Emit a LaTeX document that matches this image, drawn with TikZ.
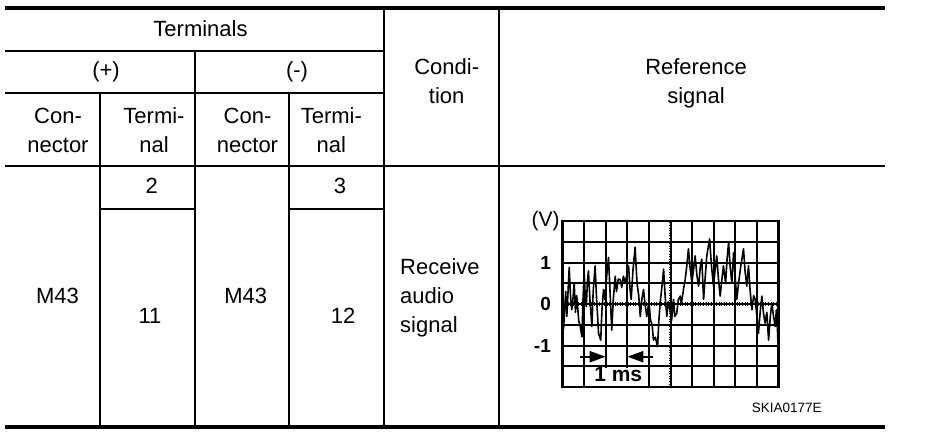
\documentclass[tikz,border=0pt]{standalone}
\usepackage{fontspec}
\setmainfont{Liberation Sans}
\usetikzlibrary{arrows.meta}

\tikzset{
  heavyrule/.style={line width=4pt},
  thinrule/.style={line width=2pt},
  cell/.style={inner sep=0pt, align=center, font=\fontsize{22}{29}\selectfont},
  axislabel/.style={inner sep=0pt, font=\fontsize{19}{22}\selectfont\bfseries},
  scopegrid/.style={line width=2pt},
  midline/.style={line width=3.5pt, dash pattern=on 0.8pt off 1.8pt},
  msarrow/.style={line width=2pt, -{Triangle[length=16pt, width=11pt]}},
  trace/.style={line width=1.6pt, line join=round}
}

\begin{document}
\begin{tikzpicture}[x=1pt, y=-1pt]
        \useasboundingbox (0,0) rectangle (928,440);

        \draw [heavyrule] (5,8) -- (885,8);
        \draw [thinrule] (5,51) -- (384,51);
        \draw [thinrule] (5,93) -- (384,93);
        \draw [thinrule] (5,166) -- (885,166);
        \draw [thinrule] (100,209) -- (195,209);
        \draw [thinrule] (289,209) -- (384,209);
        \draw [heavyrule] (5,427) -- (885,427);

        \draw [thinrule] (100,93) -- (100,427);
        \draw [thinrule] (195,51) -- (195,427);
        \draw [thinrule] (289,93) -- (289,427);
        \draw [thinrule] (384,8) -- (384,427);
        \draw [thinrule] (499,8) -- (499,427);

        \node [cell] (terminals) at (200.5,28.5) {Terminals};
        \node [cell] (plus) at (106,72) {(+)};
        \node [cell] (minus) at (297,72) {(-)};
        \node [cell] (conplus) at (58,130.5) {Con-\\nector};
        \node [cell] (termplus) at (154,130.5) {Termi-\\nal};
        \node [cell] (conminus) at (247.5,130.5) {Con-\\nector};
        \node [cell] (termminus) at (331.3,130.5) {Termi-\\nal};
        \node [cell] (condition) at (446.7,81) {Condi-\\tion};
        \node [cell] (reference) at (696,83) {Reference\\signal};

        \node [cell] (pinplus) at (151.7,186) {2};
        \node [cell] (pinminus) at (340,186) {3};
        \node [cell] (connplus) at (57.5,296) {M43};
        \node [cell] (connminus) at (245.8,296) {M43};
        \node [cell] (audioplus) at (150,316) {11};
        \node [cell] (audiominus) at (343,316) {12};
        \node [cell, align=left, anchor=west] (receive) at (400,298.3) {Receive\\audio\\signal};
        \node [cell, font=\fontsize{13.5}{16}\selectfont] (code) at (786.7,408) {SKIA0177E};

        \begin{scope}[shift={(562.5,304)}, x=21.6pt, y=41.5pt]
          \draw [scopegrid] (0,-2) grid [xstep=1, ystep=0.5] (10,2);
          \draw [scopegrid, line width=2.5pt] (0,-2) rectangle (10,2);
          \draw [midline] (5,-2) -- (5,2);
          \draw [midline] (0,0) -- (10,0);

          \fill [white] (1.05,-1.975) rectangle (3.95,-1.53);
          \node [axislabel, font=\fontsize{21}{24}\selectfont\bfseries] (ms) at (2.58,-1.7) {1 ms};

          \coordinate (msleft) at (0.81,-1.27);
          \coordinate (msright) at (4.2,-1.27);
          \coordinate (tickleft) at (2,-1.27);
          \coordinate (tickright) at (3,-1.27);
          \draw [msarrow] (msleft) -- (tickleft);
          \draw [msarrow] (msright) -- (tickright);

          \node [axislabel, font=\fontsize{21}{24}\selectfont] (volt) at (-0.78,2) {(V)};
          \node [axislabel, anchor=east] (vone) at (-0.53,1) {1};
          \node [axislabel, anchor=east] (vzero) at (-0.53,0) {0};
          \node [axislabel, anchor=east] (vminus) at (-0.53,-1) {-1};

          \draw [trace] plot coordinates {(0,-0.2) (0.05,-0.6) (0.1,-0.1) (0.15,0.3) (0.2,-0.3)
            (0.31,0.88) (0.37,0.2) (0.43,-0.14) (0.48,0.1) (0.54,0.51) (0.6,-0.2) (0.66,0.2)
            (0.75,-0.4) (0.82,-0.54) (0.9,-0.79) (0.95,0.1) (1.0,0.8) (1.05,0.2) (1.1,-0.06)
            (1.15,0.5) (1.2,0.8) (1.27,0.1) (1.36,-0.54) (1.42,0.3) (1.51,0.92) (1.57,0.2)
            (1.67,-0.71) (1.77,-0.87) (1.83,-0.1) (1.9,0.35) (1.97,0.1) (2.05,0.7) (2.13,1.12)
            (2.2,0.3) (2.28,-0.63) (2.35,0.1) (2.44,0.67) (2.5,0.3) (2.58,0.6) (2.67,0.59)
            (2.74,0.4) (2.82,0.67) (2.9,0.51) (2.98,0.7) (3.06,0.92) (3.12,0.4) (3.18,0.11)
            (3.26,0.8) (3.36,1.37) (3.45,0.5) (3.53,0.2) (3.6,-0.3) (3.67,0.1) (3.75,0.35)
            (3.82,0.0) (3.9,-0.3) (4.0,0.05) (4.08,-0.4) (4.15,-0.5) (4.21,-0.87) (4.3,-0.8)
            (4.4,-1.03) (4.46,-0.4) (4.52,0.02) (4.6,0.4) (4.68,0.84) (4.75,0.2) (4.83,-0.3)
            (4.9,0.05) (4.98,-0.14) (5.05,-0.4) (5.14,0.11) (5.2,-0.3) (5.29,-0.22) (5.36,0.1)
            (5.45,0.19) (5.5,0.0) (5.6,0.35) (5.68,0.59) (5.75,0.9) (5.83,1.33) (5.9,0.9)
            (5.99,0.51) (6.06,0.8) (6.14,1.16) (6.22,0.7) (6.3,0.43) (6.38,0.9) (6.45,1.08)
            (6.53,0.11) (6.6,0.6) (6.68,1.16) (6.81,1.57) (6.9,0.9) (6.99,0.43) (7.06,0.8)
            (7.14,1.16) (7.22,0.6) (7.3,0.19) (7.38,0.6) (7.45,0.92) (7.55,0.5) (7.62,1.1)
            (7.69,1.49) (7.76,0.9) (7.84,0.51) (7.92,1.24) (8.0,0.6) (8.07,0.11) (8.15,0.5)
            (8.25,0.9) (8.38,1.33) (8.45,0.8) (8.53,0.43) (8.61,0.92) (8.69,0.3) (8.77,-0.14)
            (8.85,0.2) (8.92,0.11) (9.0,-0.3) (9.07,-0.71) (9.15,-0.2) (9.23,0.19) (9.3,-0.2)
            (9.38,-0.46) (9.46,-0.2) (9.54,-0.87) (9.62,-0.3) (9.69,0.02) (9.77,-0.3)
            (9.85,-0.54) (9.9,-0.14) (9.95,-0.6) (10,-1.28)};
        \end{scope}
\end{tikzpicture}
\end{document}
